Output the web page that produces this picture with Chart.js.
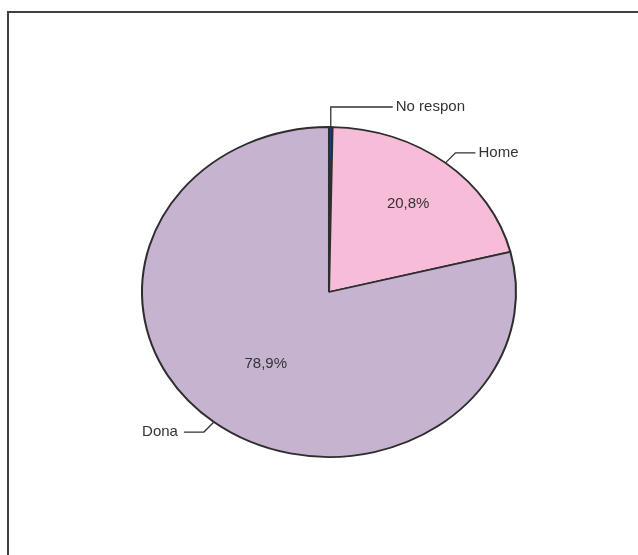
<!DOCTYPE html>
<html>
<head>
<meta charset="utf-8">
<script src="https://cdn.jsdelivr.net/npm/chart.js@4/dist/chart.umd.min.js"></script>
<style>
    body { margin: 0; background: #fff; }
    #wrap { width: 638px; height: 555px; }
</style>
</head>
<body>
<div id="wrap"><canvas id="myChart" width="638" height="555"></canvas></div>
<script>
// data
var categories = ['No respon', 'Home', 'Dona'];
var values = [0.3, 20.8, 78.9];
var pctLabels = ['0,3%', '20,8%', '78,9%'];

var colors = ['#1d3f7c', '#f6bcd8', '#c6b3d0'];
var stretchX = 187 / 165;   // the original pie is an ellipse
var labelFont = '15px "Liberation Sans", Arial, sans-serif';

// leader lines: [dx, dy, horizontal run] from the slice edge
var leaders = [[0, -20, 62], [10, -10, 20], [-10, 10, -20]];
// inside % labels, as fraction of radius (null = not shown)
var pctRadius = [null, 0.68, 0.55];

var ctx = document.getElementById('myChart').getContext('2d');

const framePlugin = {
    id: 'frame',
    beforeDraw(chart) {
        const c = chart.ctx;
        c.save();
        c.fillStyle = '#fff';
        c.fillRect(0, 0, chart.width, chart.height);
        c.strokeStyle = '#404040';
        c.lineWidth = 2;
        c.beginPath();
        c.moveTo(8, chart.height);
        c.lineTo(8, 12);
        c.lineTo(chart.width, 12);
        c.stroke();
        c.restore();
    }
};

const stretchPlugin = {
    id: 'stretch',
    beforeDatasetsDraw(chart) {
        const arc = chart.getDatasetMeta(0).data[0];
        const c = chart.ctx;
        c.save();
        c.translate(arc.x, arc.y);
        c.scale(stretchX, 1);
        c.translate(-arc.x, -arc.y);
    },
    afterDatasetsDraw(chart) {
        chart.ctx.restore();
    }
};

const labelPlugin = {
    id: 'pieLabels',
    afterDraw(chart) {
        const c = chart.ctx;
        const arcs = chart.getDatasetMeta(0).data;
        c.save();
        c.font = labelFont;
        c.fillStyle = '#333';
        c.strokeStyle = '#333';
        c.lineWidth = 1.3;
        c.textBaseline = 'middle';
        arcs.forEach((arc, i) => {
            const mid = (arc.startAngle + arc.endAngle) / 2;
            const r = arc.outerRadius;
            const ex = arc.x + Math.cos(mid) * r * stretchX;
            const ey = arc.y + Math.sin(mid) * r;
            const [dx, dy, run] = leaders[i];
            const bx = ex + dx, by = ey + dy;
            c.beginPath();
            c.moveTo(ex, ey);
            c.lineTo(bx, by);
            c.lineTo(bx + run, by);
            c.stroke();
            if (run > 0) {
                c.textAlign = 'left';
                c.fillText(categories[i], bx + run + 3, by);
            } else {
                c.textAlign = 'right';
                c.fillText(categories[i], bx + run - 6, by);
            }
            if (pctRadius[i] !== null) {
                const pr = r * pctRadius[i];
                c.textAlign = 'center';
                c.fillText(pctLabels[i], arc.x + Math.cos(mid) * pr * stretchX, arc.y + Math.sin(mid) * pr);
            }
        });
        c.restore();
    }
};

new Chart(ctx, {
    type: 'pie',
    data: {
        labels: categories,
        datasets: [{
            data: values,
            backgroundColor: colors,
            borderColor: '#2e2e2e',
            borderWidth: 1.8,
            radius: 165
        }]
    },
    options: {
        responsive: false,
        animation: false,
        layout: {
            padding: {left: 164, right: 144, top: 127, bottom: 98}
        },
        plugins: {
            legend: {display: false},
            tooltip: {enabled: false}
        }
    },
    plugins: [framePlugin, stretchPlugin, labelPlugin]
});
</script>
</body>
</html>
